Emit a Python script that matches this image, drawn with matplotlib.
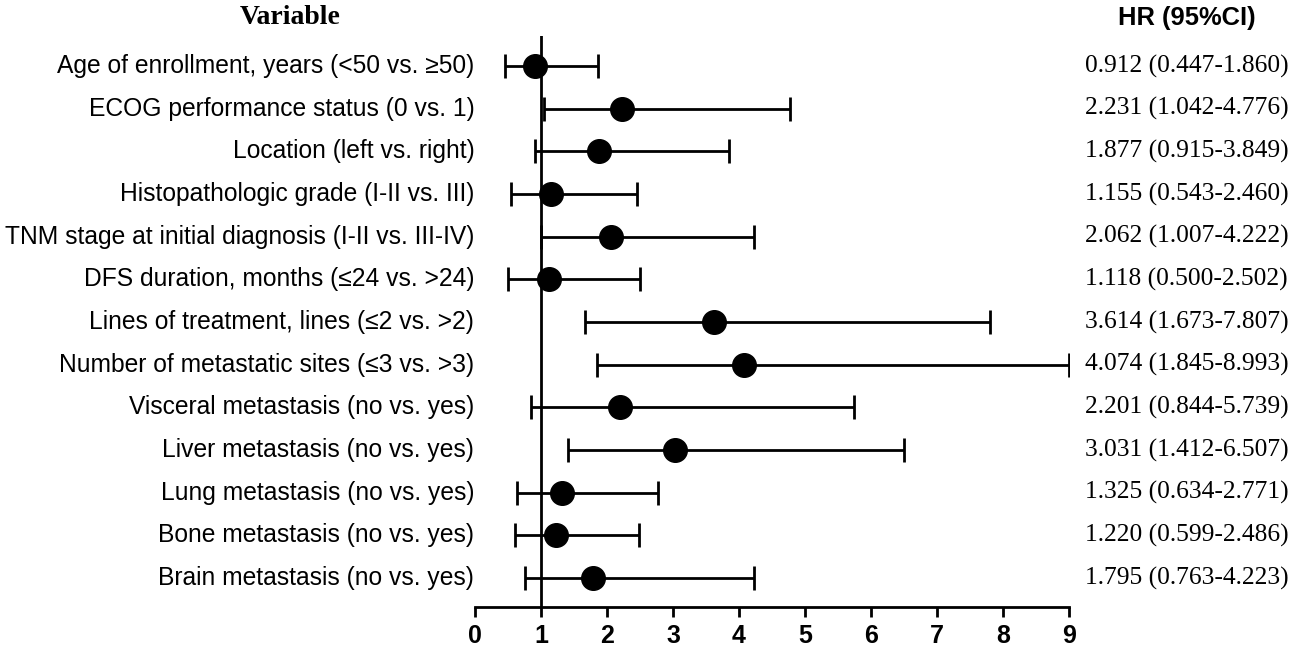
import matplotlib
matplotlib.use("Agg")
import matplotlib.pyplot as plt
from matplotlib import font_manager

variables = [
    "Age of enrollment, years (<50 vs. ≥50)",
    "ECOG performance status (0 vs. 1)",
    "Location (left vs. right)",
    "Histopathologic grade (I-II vs. III)",
    "TNM stage at initial diagnosis (I-II vs. III-IV)",
    "DFS duration, months (≤24 vs. >24)",
    "Lines of treatment, lines (≤2 vs. >2)",
    "Number of metastatic sites (≤3 vs. >3)",
    "Visceral metastasis (no vs. yes)",
    "Liver metastasis (no vs. yes)",
    "Lung metastasis (no vs. yes)",
    "Bone metastasis (no vs. yes)",
    "Brain metastasis (no vs. yes)",
]
hr = [0.912, 2.231, 1.877, 1.155, 2.062, 1.118, 3.614, 4.074, 2.201, 3.031, 1.325, 1.220, 1.795]
ci_low = [0.447, 1.042, 0.915, 0.543, 1.007, 0.500, 1.673, 1.845, 0.844, 1.412, 0.634, 0.599, 0.763]
ci_high = [1.860, 4.776, 3.849, 2.460, 4.222, 2.502, 7.807, 8.993, 5.739, 6.507, 2.771, 2.486, 4.223]
x_ticks = [0, 1, 2, 3, 4, 5, 6, 7, 8, 9]

names = {f.name for f in font_manager.fontManager.ttflist}
narrow = "Liberation Sans Narrow" if "Liberation Sans Narrow" in names else "Liberation Sans"

fig = plt.figure(figsize=(12.99, 6.52), dpi=100)
ax = fig.add_axes([475/1299, 45/652, (1069-475)/1299, (607-36)/652])

n = len(variables)
ys = list(range(n, 0, -1))
lw = 2.0
for y, h, lo, hi in zip(ys, hr, ci_low, ci_high):
    ax.errorbar([h], [y], xerr=[[h - lo], [hi - h]], fmt='o', color='black',
                markersize=17, elinewidth=lw, capsize=8.5, capthick=lw, zorder=3)

ax.axvline(1, ymin=0, ymax=1, color='black', lw=lw, zorder=2)
ax.set_xlim(0, 9)
ax.set_ylim(1 - 29/42.67, n + 30/42.67)
for s in ['left', 'right', 'top']:
    ax.spines[s].set_visible(False)
ax.spines['bottom'].set_linewidth(lw)
ax.set_yticks([])
ax.set_xticks(x_ticks)
ax.set_xticklabels([str(t) for t in x_ticks], fontfamily=narrow, fontweight='bold', fontsize=18)
ax.tick_params(axis='x', length=7, width=lw, pad=5)

for y, v in zip(ys, variables):
    ax.text(-0.01, y, v, ha='right', va='center', fontsize=17.7,
            fontfamily='Liberation Sans', clip_on=False)
for y, h, lo, hi in zip(ys, hr, ci_low, ci_high):
    ax.text(9.24, y, f"{h:.3f} ({lo:.3f}-{hi:.3f})", ha='left', va='center',
            fontsize=18.4, fontfamily='Liberation Serif', clip_on=False)

fig.text(290/1299, 1 - 18/652, "Variable", ha='center', va='center',
         fontsize=20, fontweight='bold', fontfamily='Liberation Serif')
fig.text(1187/1299, 1 - 18/652, "HR (95%CI)", ha='center', va='center',
         fontsize=18.4, fontweight='bold', fontfamily='Liberation Sans')

fig.savefig("out.png", dpi=100)
